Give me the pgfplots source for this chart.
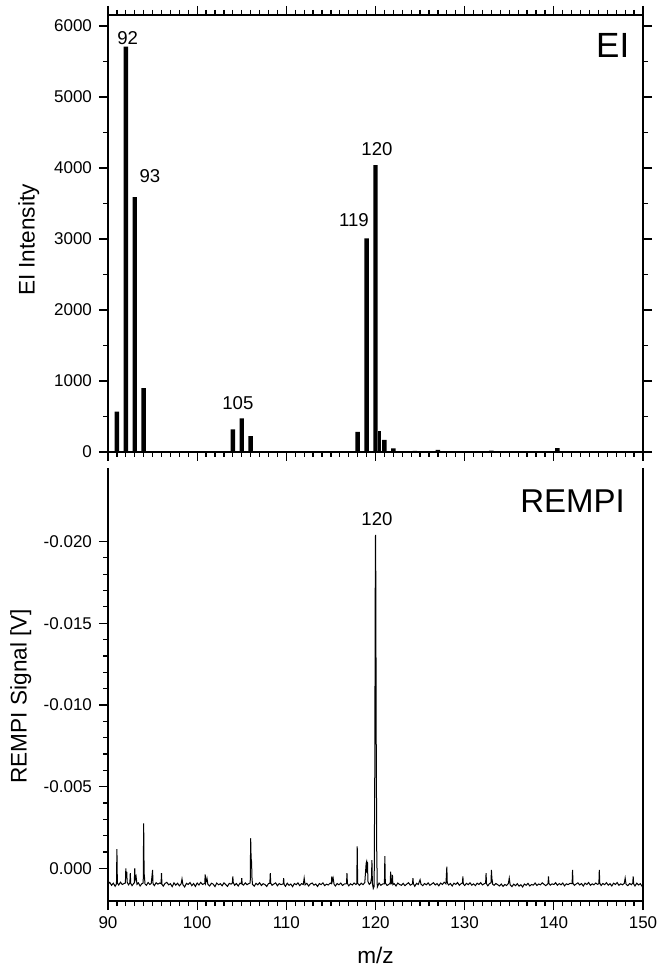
\documentclass[border=0pt]{standalone}
\usepackage{fontspec}
\setmainfont{Liberation Sans}
\usepackage{pgfplots}
\pgfplotsset{compat=1.18}
\begin{document}
\begin{tikzpicture}
\tikzset{pk/.style={font=\fontsize{9.3}{11}\selectfont}}
\pgfplotsset{
  msstyle/.style={
    scale only axis, width=267.5pt,
    xmin=90, xmax=150,
    xtick={90,100,...,150}, minor x tick num=9,
    major tick length=4.5pt, minor tick length=2.5pt,
    axis line style={line width=0.7pt},
    tick style={line width=0.6pt, black},
    /pgf/number format/assume math mode=true,
    /pgf/number format/1000 sep={},
    ticklabel style={font=\fontsize{8.5}{10}\selectfont},
    label style={font=\fontsize{11.3}{13}\selectfont},
  },
}

% EI spectrum
\begin{axis}[msstyle, at={(54pt,257.5pt)}, anchor=south west, height=218.5pt,
  tick align=outside,
  ymin=0, ymax=6155, ytick={0,1000,...,6000}, minor y tick num=1,
  xticklabel=\empty,
  ylabel={EI Intensity},
  ylabel style={at={(axis description cs:-0.148,0.485)}, anchor=center},
]
\addplot[ybar, bar width=0.5, bar shift=0pt, fill=black, draw=none] coordinates {
  (91,570) (92,5710) (93,3590) (94,900)
  (104,320) (105,475) (106,225)
  (118,282) (119,3010) (120,4040) (121,170) (122,50)
  (124.4,15) (127,30) (133,20) (140.4,55)
};
\addplot[ybar, bar width=0.3, bar shift=0pt, fill=black, draw=none] coordinates {
  (120.48,290)
};
\node[pk] at (axis cs:92.2,5830) {92};
\node[pk] at (axis cs:94.7,3887) {93};
\node[pk] at (axis cs:104.57,690) {105};
\node[pk] at (axis cs:117.58,3268) {119};
\node[pk] at (axis cs:120.16,4268) {120};
\node[font=\fontsize{17.5}{20}\selectfont] at (axis cs:146.6,5732) {EI};
\end{axis}

% REMPI spectrum
\begin{axis}[msstyle, at={(54pt,33pt)}, anchor=south west, height=216.5pt,
  y dir=reverse, ymin=-0.0245, ymax=0.002,
  axis x line*=bottom, axis y line*=box,
  tick align=outside, ytick pos=left,
  ytick={-0.020,-0.015,-0.010,-0.005,0}, minor y tick num=4,
  scaled y ticks=false,
  yticklabel style={/pgf/number format/.cd, fixed, fixed zerofill, precision=3},
  xlabel={m/z}, ylabel={REMPI Signal [V]},
  xlabel style={at={(axis description cs:0.5,-0.125)}, anchor=center},
  ylabel style={at={(axis description cs:-0.163,0.473)}, anchor=center},
]
\addplot[black, line width=0.5pt] coordinates {
(90.0,0.00098) (90.2,0.00086) (90.4,0.00104) (90.6,0.00091) (90.8,0.00110)
(90.95,0.00095) (91.0,-0.00117) (91.05,0.00090) (91.2,0.00102) (91.4,0.00085) (91.6,0.00099) (91.8,0.00093)
(91.95,0.00090) (92.0,0.00000) (92.05,0.00060) (92.1,0.00020) (92.15,0.00085) (92.3,0.00101) (92.45,0.00090) (92.5,0.00030) (92.55,0.00092) (92.7,0.00106) (92.85,0.00095)
(92.95,0.00088) (93.0,0.00000) (93.05,0.00070) (93.15,0.00050) (93.25,0.00098) (93.4,0.00089) (93.6,0.00108) (93.8,0.00094)
(93.95,0.00090) (94.0,-0.00275) (94.05,0.00030) (94.1,0.00060) (94.15,0.00096) (94.3,0.00104) (94.5,0.00087) (94.7,0.00099) (94.85,0.00092)
(95.0,0.00010) (95.05,0.00095) (95.2,0.00106) (95.4,0.00088) (95.6,0.00097) (95.8,0.00090)
(95.95,0.00094) (96.0,0.00030) (96.05,0.00098) (96.2,0.00109) (96.4,0.00092) (96.6,0.00086) (96.8,0.00101)
(97.0,0.00094) (97.2,0.00112) (97.4,0.00089) (97.6,0.00103) (97.8,0.00091)
(98.0,0.00107) (98.2,0.00095) (98.3,0.00065) (98.4,0.00100) (98.6,0.00114) (98.8,0.00092)
(99.0,0.00099) (99.2,0.00087) (99.4,0.00106) (99.6,0.00093) (99.8,0.00111)
(100.0,0.00090) (100.2,0.00102) (100.4,0.00086) (100.6,0.00099) (100.85,0.00092) (100.9,0.00037) (100.95,0.00090) (101.1,0.00060) (101.2,0.00098)
(101.4,0.00108) (101.6,0.00091) (101.8,0.00097)
(102.0,0.00112) (102.2,0.00090) (102.4,0.00101) (102.6,0.00094) (102.8,0.00107)
(103.0,0.00089) (103.2,0.00099) (103.4,0.00110) (103.6,0.00092) (103.8,0.00097)
(103.95,0.00090) (104.0,0.00050) (104.05,0.00088) (104.2,0.00104) (104.4,0.00093) (104.6,0.00108) (104.8,0.00091)
(104.95,0.00094) (105.0,0.00060) (105.05,0.00097) (105.2,0.00103) (105.4,0.00089) (105.6,0.00100) (105.8,0.00093)
(105.95,0.00090) (106.0,-0.00184) (106.05,-0.00060) (106.1,-0.00040) (106.15,0.00060) (106.2,0.00098) (106.4,0.00109) (106.6,0.00092) (106.8,0.00101)
(107.0,0.00088) (107.2,0.00105) (107.4,0.00094) (107.6,0.00099) (107.8,0.00111)
(108.0,0.00093) (108.15,0.00092) (108.2,0.00030) (108.25,0.00090) (108.4,0.00104) (108.6,0.00096) (108.8,0.00089)
(109.0,0.00107) (109.2,0.00093) (109.4,0.00100) (109.65,0.00095) (109.7,0.00060) (109.75,0.00098) (109.9,0.00110)
(110.1,0.00091) (110.3,0.00104) (110.5,0.00096) (110.7,0.00112) (110.9,0.00093)
(111.1,0.00100) (111.3,0.00089) (111.5,0.00106) (111.7,0.00094) (111.9,0.00099)
(112.0,0.00060) (112.1,0.00101) (112.3,0.00092) (112.5,0.00108) (112.7,0.00095) (112.9,0.00090)
(113.1,0.00103) (113.3,0.00096) (113.5,0.00111) (113.7,0.00093) (113.9,0.00100)
(114.1,0.00089) (114.3,0.00106) (114.5,0.00097) (114.7,0.00102) (114.9,0.00091)
(115.05,0.00094) (115.1,0.00050) (115.15,0.00080) (115.25,0.00060) (115.35,0.00097) (115.5,0.00108) (115.7,0.00093) (115.9,0.00101)
(116.1,0.00090) (116.3,0.00105) (116.5,0.00096) (116.75,0.00094) (116.8,0.00030) (116.85,0.00092)
(117.0,0.00107) (117.2,0.00095) (117.4,0.00102) (117.6,0.00090) (117.8,0.00099) (117.9,0.00094) (117.95,-0.00135) (118.0,0.00092)
(118.2,0.00104) (118.4,0.00091) (118.6,0.00100) (118.8,0.00087) (118.95,-0.00030) (119.0,-0.00040) (119.05,0.00030) (119.1,-0.00040) (119.15,0.00080)
(119.3,0.00098) (119.45,0.00090) (119.55,0.00060) (119.6,-0.00050) (119.65,0.00090) (119.75,0.00123) (119.85,0.00110)
(119.92,-0.00600) (119.97,-0.01700) (120.0,-0.02040) (120.03,-0.01800) (120.08,-0.00800) (120.14,-0.00100) (120.2,0.00115)
(120.4,0.00090) (120.6,0.00104) (120.8,0.00096) (121.0,0.00095) (121.05,-0.00074) (121.1,0.00090)
(121.3,0.00105) (121.5,0.00098) (121.65,0.00090) (121.7,0.00020) (121.75,0.00095) (121.85,0.00090) (121.9,0.00040) (121.95,0.00100)
(122.1,0.00094) (122.3,0.00108) (122.5,0.00090) (122.7,0.00099) (122.9,0.00104)
(123.1,0.00092) (123.3,0.00106) (123.5,0.00097) (123.7,0.00088) (123.9,0.00103)
(124.15,0.00095) (124.2,0.00060) (124.25,0.00094) (124.4,0.00110) (124.6,0.00092) (124.8,0.00099) (125.0,0.00070)
(125.1,0.00097) (125.3,0.00106) (125.5,0.00093) (125.7,0.00101) (125.9,0.00089)
(126.1,0.00104) (126.3,0.00096) (126.5,0.00088) (126.7,0.00102) (126.9,0.00093)
(127.1,0.00107) (127.3,0.00090) (127.5,0.00099) (127.7,0.00085) (127.9,0.00095)
(128.0,-0.00010) (128.05,0.00090) (128.2,0.00102) (128.4,0.00093) (128.6,0.00108) (128.8,0.00091)
(129.0,0.00099) (129.2,0.00087) (129.4,0.00104) (129.6,0.00094) (129.75,0.00090) (129.8,0.00050) (129.85,0.00096)
(130.0,0.00105) (130.2,0.00092) (130.4,0.00100) (130.6,0.00089) (130.8,0.00103)
(131.0,0.00095) (131.2,0.00106) (131.4,0.00091) (131.6,0.00099) (131.8,0.00088)
(132.0,0.00102) (132.2,0.00094) (132.35,0.00090) (132.4,0.00030) (132.45,0.00095) (132.6,0.00107) (132.8,0.00092)
(132.95,0.00090) (133.0,0.00010) (133.05,0.00060) (133.15,0.00098) (133.3,0.00104) (133.5,0.00093) (133.7,0.00100) (133.9,0.00108)
(134.1,0.00096) (134.3,0.00110) (134.5,0.00099) (134.7,0.00105) (134.9,0.00093)
(135.0,0.00060) (135.1,0.00101) (135.3,0.00112) (135.5,0.00097) (135.7,0.00106) (135.9,0.00094)
(136.1,0.00109) (136.3,0.00100) (136.5,0.00114) (136.7,0.00096) (136.9,0.00104)
(137.1,0.00092) (137.3,0.00108) (137.5,0.00099) (137.7,0.00103) (137.9,0.00090)
(138.1,0.00105) (138.3,0.00096) (138.5,0.00101) (138.7,0.00089) (138.9,0.00098)
(139.1,0.00106) (139.35,0.00094) (139.4,0.00050) (139.45,0.00092) (139.6,0.00103) (139.8,0.00095)
(140.0,0.00099) (140.2,0.00088) (140.4,0.00104) (140.6,0.00093) (140.8,0.00101)
(141.0,0.00090) (141.2,0.00107) (141.4,0.00095) (141.6,0.00100) (141.8,0.00092)
(142.05,0.00094) (142.1,0.00010) (142.15,0.00092) (142.3,0.00104) (142.5,0.00096) (142.7,0.00089) (142.9,0.00102)
(143.1,0.00093) (143.3,0.00108) (143.5,0.00091) (143.7,0.00099) (143.9,0.00087)
(144.1,0.00104) (144.3,0.00095) (144.5,0.00101) (144.7,0.00090) (144.9,0.00098)
(145.05,0.00094) (145.1,0.00010) (145.15,0.00090) (145.3,0.00105) (145.5,0.00093) (145.7,0.00100) (145.9,0.00088)
(146.1,0.00103) (146.3,0.00094) (146.5,0.00108) (146.7,0.00091) (146.9,0.00099)
(147.1,0.00087) (147.3,0.00104) (147.5,0.00095) (147.7,0.00101) (147.9,0.00092)
(148.0,0.00060) (148.1,0.00098) (148.3,0.00106) (148.5,0.00093) (148.7,0.00100) (148.85,0.00090) (148.9,0.00050) (148.95,0.00095)
(149.1,0.00108) (149.3,0.00091) (149.5,0.00102) (149.7,0.00094) (149.9,0.00110) (150.0,0.00096)
};
\node[pk] at (axis cs:120.16,-0.02135) {120};
\node[font=\fontsize{16.5}{19}\selectfont] at (axis cs:142.1,-0.02245) {REMPI};
\end{axis}
\pgfresetboundingbox
\path (0pt,0pt) rectangle (329pt,483.5pt);
\end{tikzpicture}
\end{document}
